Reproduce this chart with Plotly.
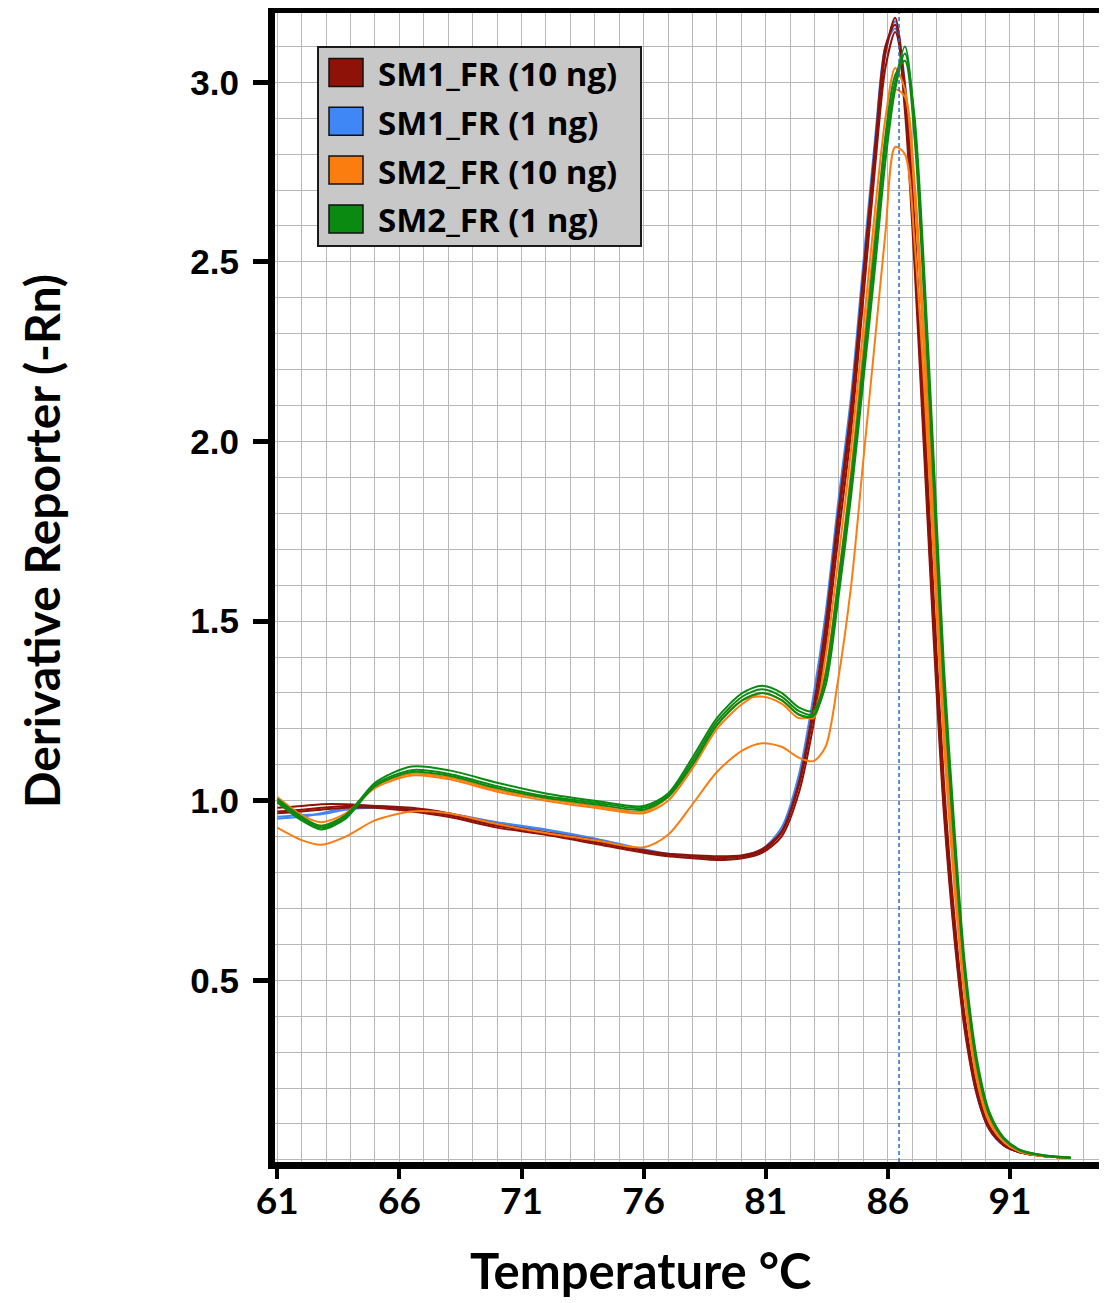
import plotly.graph_objects as go

# ---------------- data ----------------
temperature = [61, 62, 62.8, 63.8, 65, 66.5, 68, 70, 72, 74, 76, 77, 78, 79, 80.05, 80.85,
               81.65, 82.35, 82.95, 83.45, 83.95, 84.5, 85.0, 85.5, 85.9, 86.3, 86.7, 87.1,
               87.5, 87.9, 88.3, 88.75, 89.15, 89.65, 90.15, 90.75, 91.45, 92.45, 93.5]

sm1_10ng_rep1 = [0.97, 0.975, 0.98, 0.985, 0.985, 0.975, 0.96, 0.93, 0.91, 0.885, 0.86, 0.85, 0.845,
                 0.84, 0.845, 0.86, 0.91, 1.04, 1.24, 1.46, 1.76, 2.07, 2.45, 2.82, 3.08, 3.18, 2.98,
                 2.55, 2.02, 1.48, 1.00, 0.63, 0.38, 0.19, 0.09, 0.04, 0.02, 0.01, 0.005]
sm1_10ng_rep2 = [0.965, 0.97, 0.975, 0.98, 0.98, 0.97, 0.955, 0.925, 0.905, 0.88, 0.855, 0.845, 0.84,
                 0.835, 0.84, 0.855, 0.9, 1.02, 1.21, 1.43, 1.72, 2.03, 2.40, 2.78, 3.04, 3.14, 2.99,
                 2.60, 2.08, 1.54, 1.05, 0.66, 0.40, 0.20, 0.095, 0.045, 0.02, 0.01, 0.005]
sm1_10ng_rep3 = [0.98, 0.985, 0.99, 0.99, 0.985, 0.98, 0.965, 0.935, 0.912, 0.89, 0.862, 0.852, 0.848,
                 0.845, 0.848, 0.865, 0.915, 1.05, 1.26, 1.49, 1.79, 2.10, 2.47, 2.84, 3.10, 3.16, 2.92,
                 2.48, 1.95, 1.42, 0.96, 0.60, 0.36, 0.18, 0.085, 0.04, 0.02, 0.01, 0.005]

sm1_1ng_rep1 = [0.95, 0.955, 0.965, 0.98, 0.985, 0.978, 0.965, 0.94, 0.92, 0.895, 0.865, 0.852, 0.845,
                0.842, 0.846, 0.865, 0.925, 1.07, 1.29, 1.52, 1.82, 2.13, 2.50, 2.86, 3.10, 3.15, 2.95,
                2.52, 1.98, 1.45, 0.98, 0.61, 0.37, 0.18, 0.085, 0.04, 0.02, 0.01, 0.005]
sm1_1ng_rep2 = [0.955, 0.96, 0.962, 0.975, 0.98, 0.975, 0.962, 0.935, 0.918, 0.89, 0.86, 0.848, 0.842,
                0.84, 0.843, 0.86, 0.915, 1.05, 1.25, 1.48, 1.78, 2.09, 2.46, 2.83, 3.08, 3.17, 3.00,
                2.58, 2.05, 1.50, 1.02, 0.64, 0.39, 0.19, 0.09, 0.042, 0.02, 0.01, 0.005]

sm2_10ng_rep1 = [1.0, 0.95, 0.93, 0.96, 1.04, 1.075, 1.065, 1.03, 1.005, 0.985, 0.97, 1.01, 1.10,
                 1.21, 1.28, 1.29, 1.27, 1.23, 1.24, 1.40, 1.66, 1.98, 2.32, 2.66, 2.90, 3.04, 2.98,
                 2.68, 2.22, 1.70, 1.18, 0.76, 0.46, 0.23, 0.11, 0.05, 0.022, 0.01, 0.005]
sm2_10ng_rep2 = [1.01, 0.96, 0.94, 0.965, 1.035, 1.07, 1.06, 1.025, 1.0, 0.98, 0.965, 1.0, 1.09,
                 1.20, 1.27, 1.30, 1.28, 1.24, 1.23, 1.36, 1.60, 1.92, 2.26, 2.60, 2.84, 2.98, 2.96,
                 2.72, 2.28, 1.76, 1.24, 0.80, 0.49, 0.25, 0.12, 0.055, 0.024, 0.011, 0.005]
sm2_10ng_rep3 = [0.925, 0.89, 0.877, 0.9, 0.945, 0.97, 0.965, 0.935, 0.91, 0.89, 0.87, 0.905, 0.99,
                 1.08, 1.14, 1.16, 1.15, 1.12, 1.11, 1.15, 1.33, 1.60, 1.95, 2.30, 2.58, 2.82, 2.80,
                 2.55, 2.14, 1.65, 1.15, 0.74, 0.45, 0.22, 0.105, 0.05, 0.022, 0.01, 0.005]

sm2_1ng_rep1 = [1.0, 0.95, 0.925, 0.955, 1.05, 1.095, 1.085, 1.05, 1.02, 1.0, 0.985, 1.02, 1.12,
                1.23, 1.30, 1.32, 1.30, 1.26, 1.25, 1.34, 1.58, 1.88, 2.20, 2.54, 2.82, 3.0, 3.1,
                2.88, 2.42, 1.88, 1.33, 0.87, 0.53, 0.27, 0.13, 0.06, 0.026, 0.012, 0.006]
sm2_1ng_rep2 = [1.005, 0.955, 0.93, 0.96, 1.045, 1.085, 1.075, 1.04, 1.012, 0.995, 0.98, 1.015, 1.11,
                1.22, 1.29, 1.31, 1.29, 1.25, 1.24, 1.32, 1.55, 1.85, 2.17, 2.50, 2.78, 2.98, 3.08,
                2.90, 2.46, 1.92, 1.37, 0.90, 0.55, 0.28, 0.135, 0.062, 0.027, 0.012, 0.006]
sm2_1ng_rep3 = [0.995, 0.945, 0.92, 0.95, 1.04, 1.08, 1.07, 1.035, 1.008, 0.99, 0.975, 1.01, 1.10,
                1.21, 1.28, 1.30, 1.28, 1.24, 1.235, 1.35, 1.60, 1.90, 2.23, 2.57, 2.85, 3.02, 3.06,
                2.84, 2.38, 1.84, 1.30, 0.85, 0.52, 0.26, 0.125, 0.058, 0.025, 0.011, 0.005]

melt_temperature = 86.46

legend_labels = ["SM1_FR (10 ng)", "SM1_FR (1 ng)", "SM2_FR (10 ng)", "SM2_FR (1 ng)"]
x_tick_values = [61, 66, 71, 76, 81, 86, 91]
y_tick_values = [0.5, 1.0, 1.5, 2.0, 2.5, 3.0]
y_tick_labels = ["0.5", "1.0", "1.5", "2.0", "2.5", "3.0"]

# ---------------- styling ----------------
colors = {
    "SM1_FR (10 ng)": "#8e1208",
    "SM1_FR (1 ng)": "#3f86f7",
    "SM2_FR (10 ng)": "#fb7d10",
    "SM2_FR (1 ng)": "#0b8a12",
}
groups = {
    "SM1_FR (1 ng)": [sm1_1ng_rep1, sm1_1ng_rep2],
    "SM1_FR (10 ng)": [sm1_10ng_rep1, sm1_10ng_rep2, sm1_10ng_rep3],
    "SM2_FR (10 ng)": [sm2_10ng_rep1, sm2_10ng_rep2, sm2_10ng_rep3],
    "SM2_FR (1 ng)": [sm2_1ng_rep1, sm2_1ng_rep2, sm2_1ng_rep3],
}

# page body margin of the browser (figure is drawn 8px from the window's corner)
OFF = 8
SCREEN_W, SCREEN_H = 1107, 1303
W, H = SCREEN_W - OFF, SCREEN_H - OFF
# plot-area edges in screen pixels
PL, PR, PT, PB = 275, 1102, 13, 1162


def xp(px):
    return (px - PL) / (PR - PL)


def yp(py):
    return (PB - py) / (PB - PT)


fig = go.Figure()
for name, reps in groups.items():
    for rep in reps:
        fig.add_trace(go.Scatter(
            x=temperature, y=rep, mode="lines", name=name, showlegend=False,
            line=dict(color=colors[name], width=2, shape="spline", smoothing=0.8),
            hoverinfo="skip"))

grid_col = "#b8b8b8"
fig.update_xaxes(
    range=[60.906, 94.77], tickmode="array", tickvals=x_tick_values,
    showgrid=True, gridcolor=grid_col, gridwidth=1,
    minor=dict(dtick=1, tick0=61, showgrid=True, gridcolor=grid_col, gridwidth=1, ticks=""),
    showline=True, linecolor="black", linewidth=7, mirror=True,
    ticks="outside", ticklen=10, tickwidth=4, tickcolor="black",
    ticklabelstandoff=-9, automargin=False,
    tickfont=dict(family="Lato", size=37, color="black", weight="bold"),
    zeroline=False,
)
fig.update_yaxes(
    range=[-0.006, 3.193], tickmode="array", tickvals=y_tick_values, ticktext=y_tick_labels,
    showgrid=True, gridcolor=grid_col, gridwidth=1,
    minor=dict(dtick=0.1, tick0=0, showgrid=True, gridcolor=grid_col, gridwidth=1, ticks=""),
    showline=True, linecolor="black", linewidth=7, mirror=True,
    ticks="outside", ticklen=15, tickwidth=5, tickcolor="black",
    ticklabelstandoff=7, automargin=False,
    tickfont=dict(family="Liberation Sans", size=35, color="black", weight="bold"),
    zeroline=False,
)

shapes = [dict(type="line", xref="x", yref="paper", x0=melt_temperature, x1=melt_temperature,
               y0=0, y1=1, line=dict(color="#2a6ad0", width=1.5, dash="4px,3px"), layer="above")]

# legend box (manual, large square swatches)
shapes.append(dict(type="rect", xref="paper", yref="paper", x0=xp(318), x1=xp(641),
                   y0=yp(246), y1=yp(47), fillcolor="#c8c8c8",
                   line=dict(color="#1a1a1a", width=2), layer="above"))
annotations = []
for i, lab in enumerate(legend_labels):
    cy = 72.5 + 48.8 * i
    shapes.append(dict(type="rect", xref="paper", yref="paper", x0=xp(329), x1=xp(363),
                       y0=yp(cy + 14), y1=yp(cy - 14), fillcolor=colors[lab],
                       line=dict(color="#111111", width=1.5), layer="above"))
    annotations.append(dict(xref="paper", yref="paper", x=xp(376), y=yp(cy + 1),
                            xanchor="left", yanchor="middle", showarrow=False, text=lab,
                            font=dict(family="Open Sans", size=33, color="black", weight="bold")))

annotations.append(dict(xref="paper", yref="paper", x=xp(640), y=yp(1270), xanchor="center",
                        yanchor="middle", showarrow=False, text="Temperature °C",
                        font=dict(family="Lato", size=49, color="black", weight="bold")))
annotations.append(dict(xref="paper", yref="paper", x=xp(41), y=yp(541), xanchor="center",
                        yanchor="middle", showarrow=False, text="Derivative Reporter (-Rn)",
                        textangle=-90,
                        font=dict(family="Lato", size=48, color="black", weight="bold")))

fig.update_layout(
    width=W, height=H, autosize=False,
    margin=dict(l=PL - OFF, r=SCREEN_W - PR, t=PT - OFF, b=SCREEN_H - PB, pad=0,
                autoexpand=False),
    paper_bgcolor="white", plot_bgcolor="white",
    showlegend=False, shapes=shapes, annotations=annotations,
)

fig.write_html("out.html")
